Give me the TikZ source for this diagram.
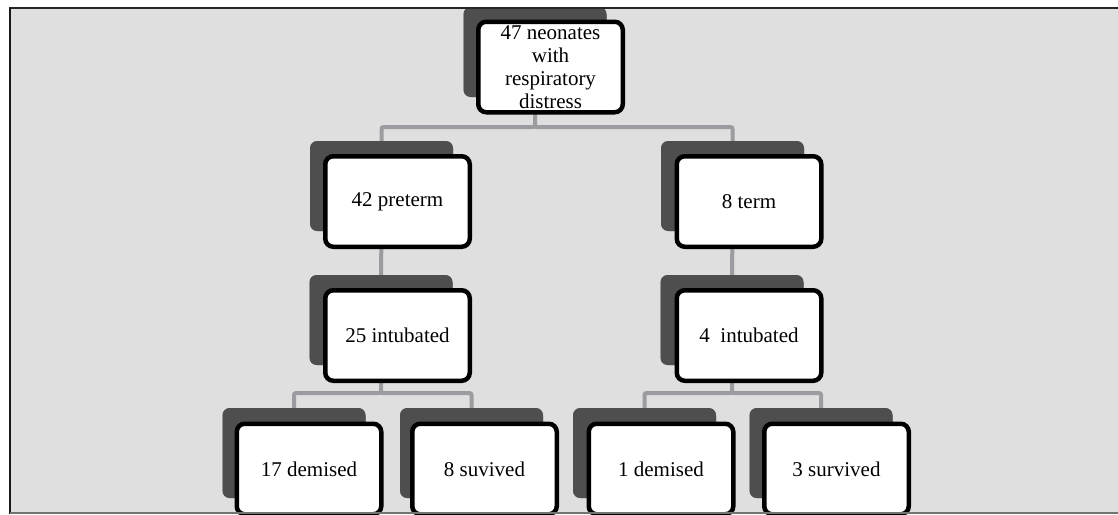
\documentclass[tikz,border=0pt]{standalone}
\usepackage{fontspec}
\setmainfont{Liberation Serif}
\begin{document}
\definecolor{bg}{HTML}{DFDFDF}
\definecolor{shd}{HTML}{4E4E4E}
\definecolor{link}{HTML}{9B9BA0}
\begin{tikzpicture}[x=1pt,y=-1pt,
  shadowbox/.style={rectangle, rounded corners=7pt, fill=shd, draw=shd!70!bg,
    line width=2pt, minimum width=141pt, minimum height=88pt, inner sep=0pt},
  card/.style={rectangle, rounded corners=8pt, fill=white, draw=black,
    line width=4.5pt, minimum width=144.5pt, minimum height=90.5pt, inner sep=2pt,
    align=center, font=\fontsize{21}{23}\selectfont},
  link/.style={draw=link, line width=4pt, rounded corners=2pt}]
\useasboundingbox (0,0) rectangle (1118,514);
\clip (0,0) rectangle (1118,514);
% panel background
\fill[bg] (10,8) rectangle (1118,514);

% bar junctions
\coordinate (j1) at (535,127);
\coordinate (j2) at (381,393);
\coordinate (j3) at (732,393);

% shadow plates
\node[shadowbox] (rootS) at (535,52) {};
\node[shadowbox] (preS) at (381.5,186) {};
\node[shadowbox] (termS) at (732.5,186) {};
\node[shadowbox] (pintS) at (381,320) {};
\node[shadowbox] (tintS) at (732,320) {};
\node[shadowbox] (pdemS) at (294,453) {};
\node[shadowbox] (psurS) at (471.5,453) {};
\node[shadowbox] (tdemS) at (644.5,453) {};
\node[shadowbox] (tsurS) at (821,453) {};

% connectors
\draw[link] (j1 |- rootS.south) -- (j1) -| (preS.north);
\draw[link] (j1) -| (termS.north);
\draw[link] (preS.south) -- (pintS.north);
\draw[link] (termS.south) -- (tintS.north);
\draw[link] (pintS.south) -- (j2) -| (pdemS.north);
\draw[link] (j2) -| (psurS.north);
\draw[link] (tintS.south) -- (j3) -| (tdemS.north);
\draw[link] (j3) -| (tsurS.north);

% plates again, over the connector ends
\foreach \s in {rootS,preS,termS,pintS,tintS,pdemS,psurS,tdemS,tsurS}
  \fill[shd, rounded corners=7pt] (\s.north west) rectangle (\s.south east);

% cards
\node[card] (root) at (550.5,67) {47 neonates\\with\\respiratory\\distress};
\node[card] (pre) at (397.5,201.5) {42 preterm};
\node[card] (term) at (749,201.5) {8 term};
\node[card] (pint) at (397.5,335.5) {25 intubated};
\node[card] (tint) at (749,335.5) {4\ \ intubated};
\node[card] (pdem) at (309,469) {17 demised};
\node[card] (psur) at (484.5,469) {8 suvived};
\node[card] (tdem) at (661,469) {1 demised};
\node[card] (tsur) at (836.5,469) {3 survived};

% panel frame
\draw[black!85, line width=2pt] (9,8) -- (1118,8);
\draw[black!90, line width=2pt] (10,8) -- (10,514);
\draw[black!55, line width=2pt] (10,513) -- (1118,513);
\end{tikzpicture}
\end{document}
